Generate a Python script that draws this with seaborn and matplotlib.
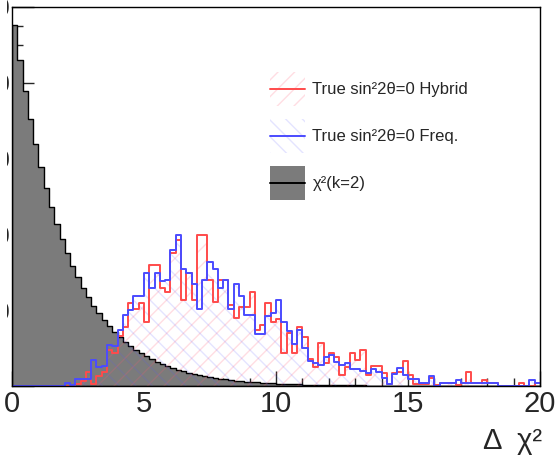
import numpy as np
import pandas as pd
import matplotlib
matplotlib.use("Agg")
import matplotlib.pyplot as plt
from matplotlib.patches import Patch, Rectangle
from matplotlib.lines import Line2D
from matplotlib.legend_handler import HandlerBase
from matplotlib.ticker import MultipleLocator, FuncFormatter
from matplotlib.transforms import Bbox
import seaborn as sns

# 100 bins of width 0.2 on [0, 20] (density)
chi2_k2 = [0.476, 0.4305, 0.3895, 0.3525, 0.3189, 0.2886, 0.2611, 0.2363, 0.2138, 0.1934,
           0.1750, 0.1584, 0.1433, 0.1297, 0.1173, 0.1062, 0.0961, 0.0869, 0.0787, 0.0712,
           0.0644, 0.0583, 0.0527, 0.0477, 0.0432, 0.0391, 0.0353, 0.0320, 0.0289, 0.0262,
           0.0237, 0.0214, 0.0194, 0.0176, 0.0159, 0.0144, 0.0130, 0.0118, 0.0106, 0.0096,
           0.0087, 0.0079, 0.0071, 0.0065, 0.0058, 0.0053, 0.0048, 0.0043, 0.0039, 0.0035,
           0.0032, 0.0029, 0.0026, 0.0024, 0.0021, 0.0019, 0.0018, 0.0016, 0.0014, 0.0013,
           0.0012, 0.0011, 0.0010, 0.0009, 0.0008, 0.0007, 0.0007, 0.0006, 0.0006, 0.0005,
           0.0005, 0.0004, 0.0004, 0.0004, 0.0003, 0.0003, 0.0003, 0.0003, 0.0002, 0.0002,
           0.0002, 0.0002, 0.0002, 0.0001, 0.0001, 0.0001, 0.0001, 0.0001, 0.0001, 0.0001,
           0.0001, 0.0001, 0.0, 0.0, 0.0, 0.0, 0.0, 0.0, 0.0, 0.0]

hybrid = [0, 0, 0, 0, 0, 0, 0, 0, 0, 0,
          0, 0, 0.003, 0.006, 0.019, 0.003, 0.013, 0.018, 0.047, 0.044,
          0.066, 0.078, 0.109, 0.102, 0.110, 0.084, 0.160, 0.160, 0.129, 0.124,
          0.175, 0.193, 0.113, 0.149, 0.113, 0.199, 0.199, 0.140, 0.111, 0.140,
          0.140, 0.107, 0.090, 0.104, 0.104, 0.124, 0.074, 0.080, 0.109, 0.085,
          0.088, 0.044, 0.070, 0.044, 0.078, 0.064, 0.036, 0.025, 0.057, 0.030,
          0.043, 0.038, 0.014, 0.025, 0.043, 0.034, 0.047, 0.015, 0.026, 0.026,
          0.017, 0.003, 0.017, 0.018, 0.033, 0.015, 0.002, 0.002, 0.002, 0.010,
          0.001, 0.004, 0.004, 0.004, 0.001, 0.004, 0.019, 0.004, 0.004, 0.008,
          0.004, 0.004, 0, 0, 0, 0, 0.004, 0, 0, 0.004]

freq = [0, 0, 0, 0, 0, 0, 0, 0, 0, 0,
        0.004, 0.001, 0.009, 0.009, 0.009, 0.034, 0.025, 0.026, 0.054, 0.053,
        0.074, 0.094, 0.100, 0.119, 0.119, 0.149, 0.129, 0.149, 0.139, 0.140,
        0.179, 0.199, 0.154, 0.149, 0.135, 0.102, 0.140, 0.164, 0.154, 0.129,
        0.140, 0.102, 0.135, 0.119, 0.094, 0.094, 0.069, 0.069, 0.092, 0.096,
        0.113, 0.084, 0.073, 0.055, 0.074, 0.050, 0.033, 0.030, 0.028, 0.038,
        0.041, 0.032, 0.028, 0.030, 0.023, 0.023, 0.020, 0.017, 0.023, 0.019,
        0.011, 0.003, 0.016, 0.024, 0.014, 0.009, 0.009, 0.004, 0.004, 0.013,
        0, 0.004, 0.004, 0.004, 0.008, 0.004, 0.004, 0.004, 0.004, 0.004,
        0.004, 0.004, 0, 0, 0, 0, 0, 0, 0.008, 0.004]

labels = ["True sin\u00b22\u03b8=0 Hybrid", "True sin\u00b22\u03b8=0 Freq.", "\u03c7\u00b2(k=2)"]

centers = np.arange(100) * 0.2 + 0.1
df = pd.DataFrame({"dchi2": centers, "chi2": chi2_k2, "hybrid": hybrid, "freq": freq})
hist_kw = dict(x="dchi2", binwidth=0.2, binrange=(0, 20), element="step")


class HistHandler(HandlerBase):
    # ROOT-like legend entry: filled box with the line through its middle
    def create_artists(self, legend, orig_handle, xdescent, ydescent,
                       width, height, fontsize, trans):
        patch, line = orig_handle
        box = Rectangle((-xdescent, -ydescent), width, height)
        box.update_from(patch)
        box.set_transform(trans)
        mid = -ydescent + height / 2
        ln = Line2D([-xdescent, -xdescent + width], [mid, mid])
        ln.update_from(line)
        ln.set_transform(trans)
        return [box, ln]


sns.set_style("ticks")
plt.rcParams["font.family"] = ["Liberation Sans", "DejaVu Sans"]
plt.rcParams["hatch.linewidth"] = 1.0

fig = plt.figure(figsize=(5.58, 4.58), dpi=100)
ax = fig.add_axes([12 / 558, 1 - 386 / 458, 528 / 558, 379 / 458])

red = "#ff4b4b"
blue = "#4b4bff"
gray = "#7b7b7b"
red_hatch = (1, 0.35, 0.45, 0.2)
blue_hatch = (0.35, 0.35, 1, 0.16)

# chi2 reference
sns.histplot(df, weights="chi2", fill=True, color=gray, facecolor=gray,
             edgecolor="black", linewidth=1.0, ax=ax, **hist_kw)

# hatched fills
sns.histplot(df, weights="hybrid", fill=True, color=red, facecolor="none",
             edgecolor=red_hatch, hatch="//", linewidth=0, ax=ax, **hist_kw)
sns.histplot(df, weights="freq", fill=True, color=blue, facecolor="none",
             edgecolor=blue_hatch, hatch="\\\\", linewidth=0, ax=ax, **hist_kw)

# outlines
sns.histplot(df, weights="hybrid", fill=False, color=red, linewidth=1.4, ax=ax, **hist_kw)
sns.histplot(df, weights="freq", fill=False, color=blue, linewidth=1.4, ax=ax, **hist_kw)

ax.set_xlim(0, 20)
ax.set_ylim(0, 0.5)
ax.set_ylabel("")
ax.set_xlabel("\u0394  \u03c7\u00b2", fontsize=21, ha="right")
ax.xaxis.set_label_coords(1.003, -0.108)

ax.xaxis.set_major_locator(MultipleLocator(5))
ax.xaxis.set_minor_locator(MultipleLocator(1))
ax.yaxis.set_major_locator(MultipleLocator(0.1))
ax.yaxis.set_minor_locator(MultipleLocator(0.025))
ax.yaxis.set_major_formatter(FuncFormatter(lambda v, p: "" if v < 0.05 else f"{v:.2f}"))

ax.tick_params(axis="x", which="major", direction="in", length=11, width=1,
               labelsize=21, pad=3)
ax.tick_params(axis="x", which="minor", direction="in", length=5.5, width=1)
ax.tick_params(axis="y", which="major", direction="in", length=16, width=1,
               labelsize=18, pad=1.5)
ax.tick_params(axis="y", which="minor", direction="in", length=8, width=1)
for s in ax.spines.values():
    s.set_linewidth(1)
    s.set_color("black")

# the y labels are cut off by the left edge of the picture: only a sliver shows
fig.canvas.draw()
for lbl in ax.get_yticklabels():
    lbl.set_clip_box(Bbox([[7, 0], [12, 458]]))
    lbl.set_clip_on(True)

handles = [
    (Patch(facecolor="none", edgecolor=red_hatch, hatch="//", linewidth=0),
     Line2D([], [], color=red, linewidth=1.4)),
    (Patch(facecolor="none", edgecolor=blue_hatch, hatch="\\\\", linewidth=0),
     Line2D([], [], color=blue, linewidth=1.4)),
    (Patch(facecolor=gray, edgecolor="none"),
     Line2D([], [], color="black", linewidth=1.4)),
]
ax.legend(handles, labels, handler_map={tuple: HistHandler()},
          loc="upper left", bbox_to_anchor=(270 / 558, 1 - 72 / 458),
          bbox_transform=fig.transFigure, frameon=False, fontsize=12,
          handlelength=2.1, handleheight=2.76, labelspacing=0.77,
          handletextpad=0.45, borderpad=0, borderaxespad=0)

fig.savefig("out.png", dpi=100)
